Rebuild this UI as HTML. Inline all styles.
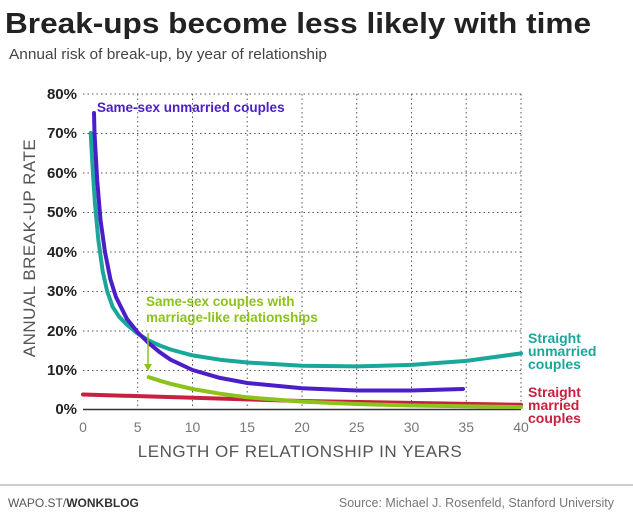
<!DOCTYPE html>
<html><head><meta charset="utf-8"><style>
body{margin:0;background:#fff;}
svg{display:block;font-family:"Liberation Sans",sans-serif;}
</style></head><body>
<svg width="633" height="520" viewBox="0 0 633 520">
<text x="5" y="33" font-size="29" font-weight="bold" fill="#222" textLength="586" lengthAdjust="spacingAndGlyphs">Break-ups become less likely with time</text>
<text x="9" y="59" font-size="15" fill="#444" textLength="318" lengthAdjust="spacingAndGlyphs">Annual risk of break-up, by year of relationship</text>
<g stroke="#555" stroke-width="1" stroke-dasharray="1.5,3" fill="none">
<line x1="83" y1="94" x2="521" y2="94"/><line x1="83" y1="133.5" x2="521" y2="133.5"/>
<line x1="83" y1="173" x2="521" y2="173"/><line x1="83" y1="212.5" x2="521" y2="212.5"/>
<line x1="83" y1="252" x2="521" y2="252"/><line x1="83" y1="291.5" x2="521" y2="291.5"/>
<line x1="83" y1="331" x2="521" y2="331"/><line x1="83" y1="370.5" x2="521" y2="370.5"/>
<line x1="137.7" y1="94" x2="137.7" y2="409"/><line x1="192.5" y1="94" x2="192.5" y2="409"/>
<line x1="247.2" y1="94" x2="247.2" y2="409"/><line x1="302" y1="94" x2="302" y2="409"/>
<line x1="356.7" y1="94" x2="356.7" y2="409"/><line x1="411.5" y1="94" x2="411.5" y2="409"/>
<line x1="466.2" y1="94" x2="466.2" y2="409"/><line x1="521" y1="94" x2="521" y2="409"/>
</g>
<line x1="83" y1="409.5" x2="521" y2="409.5" stroke="#333" stroke-width="1.5"/>
<g font-size="15" font-weight="bold" fill="#222" text-anchor="end">
<text x="77" y="99">80%</text><text x="77" y="138">70%</text><text x="77" y="178">60%</text>
<text x="77" y="217">50%</text><text x="77" y="257">40%</text><text x="77" y="296">30%</text>
<text x="77" y="336">20%</text><text x="77" y="375">10%</text><text x="77" y="414">0%</text>
</g>
<g font-size="14" fill="#777" text-anchor="middle">
<text x="83" y="432">0</text><text x="137.7" y="432">5</text><text x="192.5" y="432">10</text>
<text x="247.2" y="432">15</text><text x="302" y="432">20</text><text x="356.7" y="432">25</text>
<text x="411.5" y="432">30</text><text x="466.2" y="432">35</text><text x="521" y="432">40</text>
</g>
<text x="300" y="457" font-size="17" fill="#555" text-anchor="middle" letter-spacing="0.5">LENGTH OF RELATIONSHIP IN YEARS</text>
<text transform="translate(35,248) rotate(-90)" font-size="17" fill="#555" text-anchor="middle" letter-spacing="0.5">ANNUAL BREAK-UP RATE</text>
<g fill="none" stroke-linecap="round" stroke-linejoin="round" stroke-width="4">
<polyline stroke="#c8203f" points="83,394.5 302,401 521,404.8"/>
<polyline stroke="#8cc31a" points="148.7,377.1 159.7,380.7 170.6,383.8 192.5,389 219.9,393.7 247.3,397.3 302,401.6 356.8,404 411.5,405.5 521,407.1"/>
<polyline stroke="#1aa79a" points="90.7,133 92.9,172.5 95,204.1 98.3,239.6 102.7,271.3 107.1,291 112.6,306.8 119.1,316.7 126.8,324.6 137.8,333.7 148.7,340.4 159.7,345.5 170.6,349.5 192.5,355.4 219.9,359.7 247.3,362.5 302,365.7 356.8,366.4 411.5,364.9 466.3,360.9 521,353.4"/>
<polyline stroke="#4b1ec8" points="94,113 94.5,133 97.2,180.4 100.5,219.9 104.9,251.5 110.4,279.2 115.9,296.9 126.8,318.7 137.8,332.5 148.7,343.1 159.7,352.2 170.6,359.7 192.5,370 219.9,377.9 247.3,383 302,388.2 356.8,390.5 411.5,390.5 463,389"/>
</g>
<line x1="148" y1="333" x2="148" y2="366" stroke="#8cc31a" stroke-width="1.5"/>
<polygon points="144,364 152,364 148,371" fill="#8cc31a"/>
<g font-size="13.5" font-weight="bold">
<text x="97" y="112" fill="#4b1ec8">Same-sex unmarried couples</text>
<text x="146" y="306" fill="#8cc31a">Same-sex couples with</text>
<text x="146" y="322" fill="#8cc31a">marriage-like relationships</text>
</g>
<g font-size="14" font-weight="bold">
<text x="528" y="343" fill="#1aa79a">Straight</text>
<text x="528" y="356" fill="#1aa79a">unmarried</text>
<text x="528" y="369" fill="#1aa79a">couples</text>
<text x="528" y="397" fill="#c8203f">Straight</text>
<text x="528" y="410" fill="#c8203f">married</text>
<text x="528" y="423" fill="#c8203f">couples</text>
</g>
<line x1="0" y1="485" x2="633" y2="485" stroke="#999" stroke-width="1"/>
<text x="8" y="507" font-size="12" fill="#555">WAPO.ST/<tspan font-weight="bold" fill="#333">WONKBLOG</tspan></text>
<text x="614" y="507" font-size="12.5" fill="#777" text-anchor="end">Source: Michael J. Rosenfeld, Stanford University</text>
</svg>
</body></html>
